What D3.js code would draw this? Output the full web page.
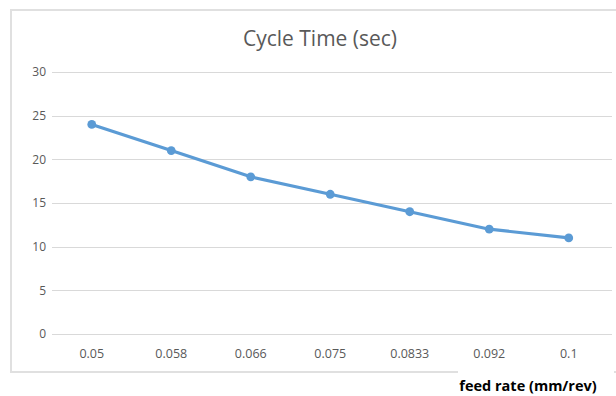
<!DOCTYPE html>
<html>
<head>
<meta charset="utf-8">
<script src="https://cdn.jsdelivr.net/npm/d3@7"></script>
<style>
  html, body { margin: 0; padding: 0; background: #fff; }
  svg { display: block; font-family: "Open Sans", "Liberation Sans", sans-serif; }
</style>
</head>
<body>
<svg id="chart" width="616" height="396"></svg>
<script>
const feedRates = ["0.05", "0.058", "0.066", "0.075", "0.0833", "0.092", "0.1"];
const cycleTimes = [24, 21, 18, 16, 14, 12, 11];
const yTicks = [0, 5, 10, 15, 20, 25, 30];
const chartTitle = "Cycle Time (sec)";
const xAxisTitle = "feed rate (mm/rev)";

const svg = d3.select("#chart");
const textColor = "#595959";
const gridColor = "#d9d9d9";
const frameColor = "#e0e0e0";
const lineColor = "#5b9bd5";

// chart frame
svg.append("rect")
  .attr("x", 11).attr("y", 10)
  .attr("width", 620).attr("height", 362)
  .attr("fill", "#fff")
  .attr("stroke", frameColor).attr("stroke-width", 2);

const x = d3.scaleBand().domain(feedRates).range([52, 608.5]);
const y = d3.scaleLinear().domain([0, 30]).range([334, 72]);

// horizontal gridlines
svg.append("g").selectAll("line")
  .data(yTicks)
  .join("line")
  .attr("x1", 52).attr("x2", 612)
  .attr("y1", d => Math.round(y(d)) + 0.5)
  .attr("y2", d => Math.round(y(d)) + 0.5)
  .attr("stroke", gridColor).attr("stroke-width", 1);

// y-axis labels
const yAxis = d3.axisLeft(y).tickValues(yTicks).tickSize(0).tickPadding(0);
svg.append("g")
  .attr("transform", "translate(46,0)")
  .call(yAxis)
  .call(g => g.select(".domain").remove())
  .call(g => g.selectAll("text")
    .attr("fill", textColor)
    .style("font-size", "12px")
    .style("font-family", "'Open Sans', sans-serif"));

// x-axis labels
const xAxis = d3.axisBottom(x).tickSize(0).tickPadding(0);
svg.append("g")
  .attr("transform", "translate(0,349)")
  .call(xAxis)
  .call(g => g.select(".domain").remove())
  .call(g => g.selectAll("text")
    .attr("fill", textColor)
    .style("font-size", "12.5px")
    .style("font-family", "'Open Sans', sans-serif"));

// title
svg.append("text")
  .attr("x", 320).attr("y", 46)
  .attr("text-anchor", "middle")
  .attr("fill", textColor)
  .style("font-size", "21px")
  .style("font-weight", 400)
  .text(chartTitle);

// series line
const line = d3.line()
  .x((d, i) => x(feedRates[i]) + x.bandwidth() / 2)
  .y(d => y(d));

svg.append("path")
  .datum(cycleTimes)
  .attr("d", line)
  .attr("fill", "none")
  .attr("stroke", lineColor)
  .attr("stroke-width", 3.2)
  .attr("stroke-linejoin", "round")
  .attr("stroke-linecap", "round");

svg.append("g").selectAll("circle")
  .data(cycleTimes)
  .join("circle")
  .attr("cx", (d, i) => x(feedRates[i]) + x.bandwidth() / 2)
  .attr("cy", d => y(d))
  .attr("r", 4.4)
  .attr("fill", lineColor);

// x-axis title with a white backing box over the frame
const xt = svg.append("g");
xt.append("rect")
  .attr("x", 458).attr("y", 368)
  .attr("width", 156).attr("height", 28)
  .attr("fill", "#fff");
xt.append("text")
  .attr("x", 528).attr("y", 391)
  .attr("text-anchor", "middle")
  .attr("fill", "#000")
  .style("font-size", "14.5px")
  .style("font-weight", 700)
  .text(xAxisTitle);
</script>
</body>
</html>
